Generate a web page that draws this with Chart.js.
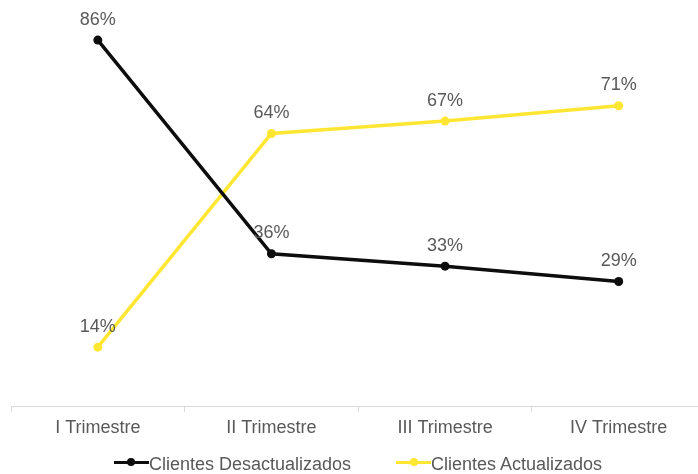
<!DOCTYPE html>
<html>
<head>
<meta charset="utf-8">
<script src="https://cdn.jsdelivr.net/npm/chart.js@4.4.1/dist/chart.umd.min.js"></script>
<style>
  html, body { margin: 0; padding: 0; background: #fff; }
  #frame { position: relative; width: 698px; height: 474px; overflow: hidden; background: #fff; }
  #wrap { position: absolute; left: 0; top: 0; width: 710px; height: 474px; }
  #legend { position: absolute; left: -3px; top: 455px; width: 722px; display: flex; justify-content: center;
            font-family: 'Liberation Sans', Arial, sans-serif; font-size: 18px; line-height: 18px; color: #595959; }
  .item { display: flex; align-items: center; margin: 0 22.5px; white-space: nowrap; }
  .mk { position: relative; width: 35px; height: 10px; top: -2px; }
  .mk .ln { position: absolute; left: 0; right: 0; top: 3.5px; height: 3px; }
  .mk .dt { position: absolute; left: 13.5px; top: 1px; width: 8px; height: 8px; border-radius: 50%; }
</style>
</head>
<body>
<div id="frame">
  <div id="wrap"><canvas id="c"></canvas></div>
  <div id="legend"></div>
</div>
<script>
const categories = ['I Trimestre', 'II Trimestre', 'III Trimestre', 'IV Trimestre'];
const seriesNames = ['Clientes Desactualizados', 'Clientes Actualizados'];
const desactualizados = [86, 35.9, 33, 29.4];
const actualizados = [14, 64.1, 67, 70.6];
const seriesColors = ['#0d0d0d', '#FFE632'];

const FONT = "'Liberation Sans', Arial, sans-serif";
Chart.defaults.font.family = FONT;

const labelPlugin = {
  id: 'valueLabels',
  afterDatasetsDraw(chart) {
    const ctx = chart.ctx;
    ctx.save();
    ctx.font = '18px ' + FONT;
    ctx.fillStyle = '#595959';
    ctx.textAlign = 'center';
    ctx.textBaseline = 'alphabetic';
    chart.data.datasets.forEach((ds, i) => {
      const meta = chart.getDatasetMeta(i);
      meta.data.forEach((pt, j) => {
        ctx.fillText(Math.round(ds.data[j]) + '%', pt.x, pt.y - 15.5);
      });
    });
    ctx.restore();
  }
};

const datasets = [desactualizados, actualizados].map((d, i) => ({
  label: seriesNames[i],
  data: d,
  borderColor: seriesColors[i],
  backgroundColor: seriesColors[i],
  pointBackgroundColor: seriesColors[i],
  pointBorderColor: seriesColors[i],
  borderWidth: 3.5,
  pointRadius: 4.5,
  pointBorderWidth: 0,
  tension: 0,
  clip: false
}));

new Chart(document.getElementById('c'), {
  type: 'line',
  data: { labels: categories, datasets },
  options: {
    responsive: true,
    maintainAspectRatio: false,
    animation: false,
    layout: { padding: { left: 11, right: 2, top: 23, bottom: 30.5 } },
    plugins: { legend: { display: false }, tooltip: { enabled: false } },
    scales: {
      x: {
        offset: true,
        grid: { display: true, offset: true, drawOnChartArea: false, drawTicks: true, tickLength: 5, color: '#d9d9d9', lineWidth: 1 },
        border: { display: true, color: '#d9d9d9', width: 1 },
        ticks: { color: '#595959', font: { size: 18 }, padding: 5, maxRotation: 0, autoSkip: false }
      },
      y: { display: false, min: 0, max: 90 }
    }
  },
  plugins: [labelPlugin]
});

const legend = document.getElementById('legend');
seriesNames.forEach((n, i) => {
  const it = document.createElement('div');
  it.className = 'item';
  it.innerHTML = '<span class="mk"><span class="ln" style="background:' + seriesColors[i] + '"></span><span class="dt" style="background:' + seriesColors[i] + '"></span></span><span>' + n + '</span>';
  legend.appendChild(it);
});
</script>
</body>
</html>
